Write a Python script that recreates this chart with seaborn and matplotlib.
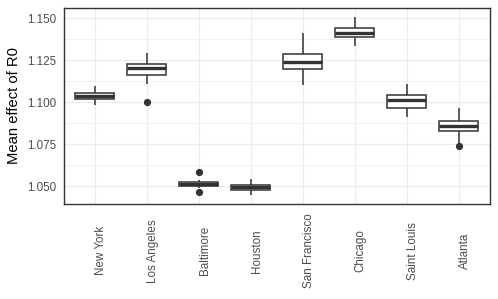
import numpy as np
import pandas as pd
import seaborn as sns
import matplotlib
matplotlib.use("Agg")
import matplotlib.pyplot as plt
from matplotlib.ticker import MultipleLocator, FormatStrFormatter

cities = ["New York", "Los Angeles", "Baltimore", "Houston",
          "San Francisco", "Chicago", "Saint Louis", "Atlanta"]

new_york      = [1.0984, 1.1008, 1.1022, 1.1030, 1.1039, 1.1048, 1.1057, 1.1075, 1.1097]
los_angeles   = [1.1004, 1.1107, 1.1160, 1.1185, 1.1205, 1.1215, 1.1225, 1.1260, 1.1291]
baltimore     = [1.0467, 1.0492, 1.0503, 1.0508, 1.0513, 1.0518, 1.0523, 1.0535, 1.0583]
houston       = [1.0447, 1.0465, 1.0480, 1.0488, 1.0495, 1.0502, 1.0510, 1.0528, 1.0544]
san_francisco = [1.1103, 1.1150, 1.1198, 1.1220, 1.1241, 1.1265, 1.1287, 1.1350, 1.1413]
chicago       = [1.1336, 1.1360, 1.1386, 1.1400, 1.1415, 1.1428, 1.1441, 1.1470, 1.1508]
saint_louis   = [1.0911, 1.0940, 1.0966, 1.0990, 1.1014, 1.1030, 1.1045, 1.1080, 1.1111]
atlanta       = [1.0738, 1.0760, 1.0830, 1.0845, 1.0861, 1.0875, 1.0888, 1.0925, 1.0965]

series = [new_york, los_angeles, baltimore, houston,
          san_francisco, chicago, saint_louis, atlanta]

df = pd.DataFrame({
    "city": np.repeat(cities, [len(s) for s in series]),
    "value": np.concatenate(series),
})

sns.set_theme(style="white")
plt.rcParams["font.family"] = ["Liberation Sans", "DejaVu Sans"]

fig = plt.figure(figsize=(4.98, 2.99), dpi=100)
ax = fig.add_axes([63.5 / 498, 1 - 204 / 299, (490 - 63.5) / 498, (204 - 8) / 299])

dark = "#333333"
sns.boxplot(
    data=df, x="city", y="value", order=cities, ax=ax,
    color="white", linecolor=dark, linewidth=1.1, width=0.75,
    fliersize=4.2, showcaps=False, whis=1.5,
    medianprops={"linewidth": 2.4, "color": dark},
    flierprops={"marker": "o", "markerfacecolor": dark, "markeredgecolor": dark},
    zorder=3,
)

ax.set_xlim(-0.6, 7.6)
ax.set_ylim(1.0394, 1.1561)
ax.yaxis.set_major_locator(MultipleLocator(0.025))
ax.yaxis.set_minor_locator(MultipleLocator(0.0125))
ax.yaxis.set_major_formatter(FormatStrFormatter("%.3f"))

ax.set_axisbelow(True)
ax.grid(True, which="major", axis="both", color="#EBEBEB", linewidth=0.85)
ax.grid(True, which="minor", axis="y", color="#EBEBEB", linewidth=0.45)
ax.tick_params(axis="y", which="minor", length=0)

for sp in ax.spines.values():
    sp.set_visible(True)
    sp.set_color(dark)
    sp.set_linewidth(1.0)

ax.tick_params(axis="both", which="major", length=2.7, width=0.8, color=dark,
               labelsize=8.4, labelcolor="#4D4D4D", direction="out")
ax.tick_params(axis="y", pad=2.2)
ax.tick_params(axis="x", pad=31)
for lab in ax.get_xticklabels():
    lab.set_rotation(90)
    lab.set_ha("left")
    lab.set_va("center")

ax.set_xlabel("")
ax.set_ylabel("Mean effect of R0", fontsize=10.6, color="black", labelpad=5)

fig.savefig("out.png", dpi=100)
